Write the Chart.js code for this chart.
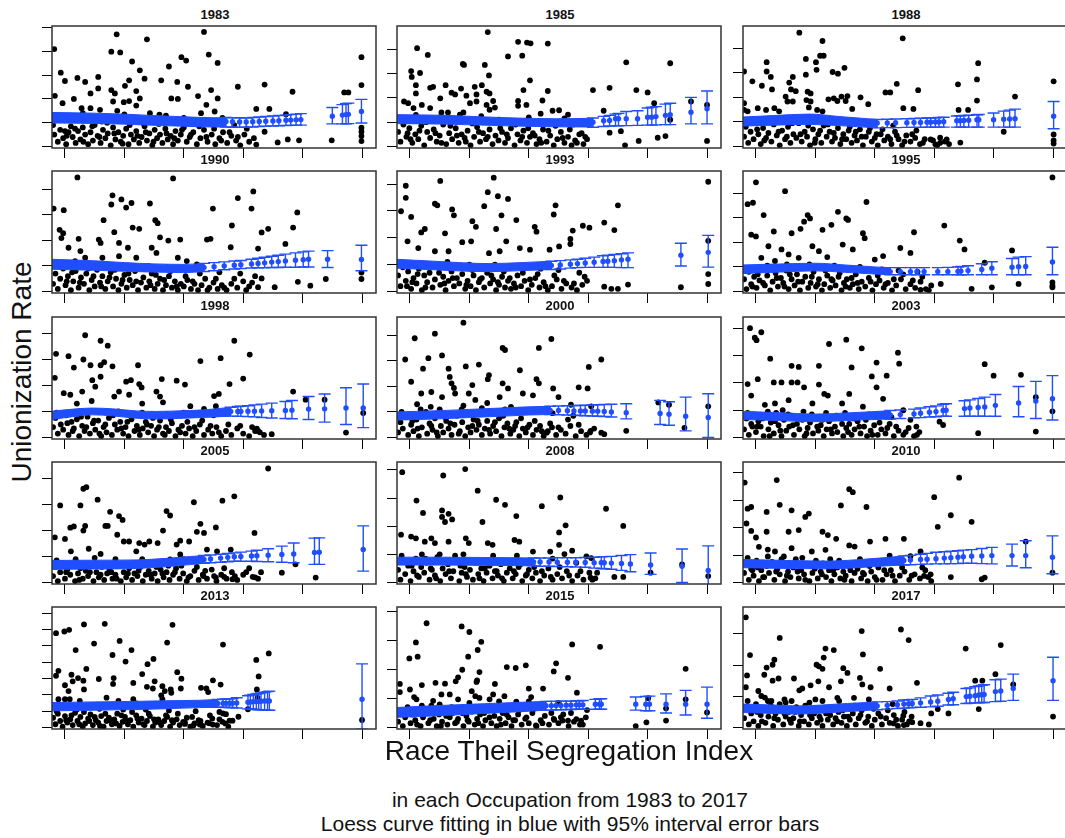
<!DOCTYPE html>
<html>
<head>
<meta charset="utf-8">
<script src="https://cdn.jsdelivr.net/npm/chart.js@4.4.0/dist/chart.umd.min.js"></script>
<style>
body { margin: 0; background: #fff; width: 1065px; height: 838px; overflow: hidden; position: relative; font-family: "Liberation Sans", Arial, sans-serif; }
canvas { position: absolute; }
.ttl { position: absolute; width: 326px; text-align: center; font-weight: bold; font-size: 13px; line-height: 14px; color: #111; }
.lbl { position: absolute; text-align: center; color: #111; white-space: nowrap; }
</style>
</head>
<body>
<script>
const years = [1983, 1985, 1988, 1990, 1993, 1995, 1998, 2000, 2003, 2005, 2008, 2010, 2013, 2015, 2017]
const xTicks = [0, 0.1, 0.2, 0.3, 0.4, 0.5]
const yTicks = [0, 0.1, 0.2, 0.3, 0.4, 0.5, 0.6, 0.7]
// value at the top edge of each panel
const yTop = [0.506, 0.495, 0.49, 0.471, 0.449, 0.49, 0.462, 0.471, 0.442, 0.464, 0.428, 0.439, 0.738, 0.415, 0.386]

const pts1983 = [[-0.018,0.409],[0.087,0.471],[0.138,0.45],[0.234,0.481],[0.078,0.398],[0.093,0.395],[0.242,0.386],[0.196,0.375],[0.204,0.361],[0.257,0.351],[0.113,0.357],[0.175,0.336],[0.126,0.32],[-0.007,0.31],[0,0.275],[0.021,0.288],[0.034,0.271],[0.056,0.292],[0.134,0.285],[0.162,0.278],[0.108,0.278],[0.189,0.271],[0.101,0.255],[0.207,0.251],[0.291,0.251],[0.336,0.26],[0.499,0.375],[0.499,0.258],[0.246,0.237],[0.056,0.244],[0.043,0.223],[0.078,0.237],[0.084,0.223],[0.12,0.233],[0.383,0.23],[0.47,0.227],[0.477,0.227],[-0.017,0.213],[0.015,0.2],[0.126,0.202],[0.179,0.202],[0.19,0.2],[0.224,0.212],[0.257,0.202],[0.081,0.189],[0.099,0.186],[0.108,0.191],[0.12,0.172],[-0.004,0.182],[0.028,0.161],[0.043,0.161],[0.059,0.154],[0.088,0.15],[0.238,0.175],[0.322,0.158],[0.344,0.158],[0.252,0.147],[0.229,0.14],[0.143,0.14],[0.159,0.134],[0.372,0.136],[0.336,0.062],[0.358,0.017],[0.375,0.03],[0.394,0.026],[0.449,0.026],[0.499,0.079],[0.499,0.062],[0.499,0.044],[0.499,0.023],[0.01,0.13],[0.03,0.14],[0.07,0.12],[0.1,0.135],[0.17,0.13],[0.2,0.12],[0.265,0.12],
[-0.02,0.09],[-0.018,0.05],[-0.012,0.02],[-0.008,0.07],[-0.003,0.035],[0.002,0.01],[0.006,0.06],[0.01,0.085],[0.013,0.04],[0.018,0.015],[0.022,0.065],[0.026,0.03],[0.03,0.08],[0.034,0.05],[0.039,0.01],[0.043,0.06],[0.047,0.025],[0.05,0.09],[0.055,0.045],[0.06,0.015],[0.064,0.07],[0.068,0.035],[0.072,0.055],[0.077,0.005],[0.081,0.08],[0.085,0.03],[0.09,0.06],[0.094,0.02],[0.098,0.045],[0.103,0.075],[0.107,0.01],[0.111,0.05],[0.116,0.03],[0.12,0.065],[0.125,0.015],[0.129,0.04],[0.134,0.085],[0.138,0.025],[0.142,0.055],[0.147,0.005],[0.151,0.07],[0.155,0.035],[0.16,0.05],[0.164,0.015],[0.169,0.075],[0.173,0.03],[0.178,0.045],[0.182,0.01],[0.186,0.065],[0.19,0.025],[0.195,0.05],[0.2,0.08],[0.205,0.02],[0.21,0.04],[0.216,0.06],[0.222,0.01],[0.228,0.035],[0.234,0.07],[0.24,0.02],[0.247,0.05],[0.253,0.01],[0.26,0.035],[0.266,0.06],[0.273,0.015],[0.28,0.045],[0.288,0.025],[0.295,0.005],[0.302,0.05],[0.31,0.02],[0.318,0.035]]
const pts1985 = [[0.131,0.47],[0.182,0.43],[0.197,0.427],[0.203,0.424],[0.232,0.423],[0.012,0.404],[0.03,0.376],[0.165,0.37],[0.189,0.373],[0.089,0.339],[0.091,0.335],[0.126,0.335],[0.364,0.346],[0.438,0.342],[0.002,0.31],[0.003,0.286],[0.017,0.302],[0.133,0.292],[0.202,0.272],[0.01,0.252],[0.034,0.241],[0.039,0.245],[0.06,0.252],[0.086,0.238],[0.109,0.245],[0.121,0.252],[0.191,0.232],[0.232,0.228],[0.308,0.232],[0.336,0.241],[0.381,0.232],[0.4,0.222],[0.01,0.218],[0.07,0.221],[0.076,0.214],[0.095,0.209],[0.112,0.214],[0.129,0.225],[0.134,0.218],[0.051,0.198],[0.101,0.178],[0.112,0.185],[0.14,0.187],[0.182,0.187],[0.223,0.189],[-0.01,0.185],[-0.003,0.178],[0.006,0.158],[0.02,0.171],[0.034,0.158],[0.129,0.171],[0.134,0.151],[0.143,0.16],[0.182,0.167],[0.196,0.171],[0.411,0.178],[0.473,0.185],[0.5,0.171],[0.24,0.147],[0.251,0.149],[0.326,0.147],[0.266,0.131],[0.053,0.14],[0.064,0.14],[0.084,0.131],[0.336,0.057],[0.355,0.063],[0.362,0.005],[0.385,0.023],[0.417,0.036],[0.43,0.043],[0.5,0.023],[0.438,0.11],
[0.01,0.13],[0.05,0.12],[0.09,0.14],[0.12,0.125],[0.15,0.11],[0.2,0.12],[0.22,0.135],[0.26,0.115],
[-0.02,0.06],[-0.016,0.02],[-0.011,0.09],[-0.006,0.04],[-0.001,0.075],[0.004,0.015],[0.009,0.05],[0.014,0.03],[0.019,0.085],[0.024,0.005],[0.029,0.06],[0.034,0.035],[0.04,0.07],[0.045,0.02],[0.05,0.045],[0.056,0.09],[0.061,0.01],[0.066,0.055],[0.071,0.03],[0.077,0.075],[0.082,0.015],[0.087,0.05],[0.092,0.035],[0.097,0.065],[0.102,0.005],[0.108,0.04],[0.113,0.08],[0.118,0.02],[0.123,0.055],[0.128,0.03],[0.134,0.07],[0.139,0.01],[0.144,0.045],[0.149,0.025],[0.155,0.06],[0.16,0.015],[0.165,0.035],[0.17,0.075],[0.176,0.005],[0.181,0.05],[0.186,0.025],[0.191,0.065],[0.197,0.015],[0.202,0.04],[0.207,0.055],[0.213,0.01],[0.218,0.03],[0.224,0.07],[0.23,0.02],[0.236,0.045],[0.242,0.005],[0.248,0.03],[0.254,0.06],[0.26,0.015],[0.266,0.04],[0.272,0.005],[0.278,0.025],[0.285,0.05],[0.292,0.01],[0.298,0.03]]
const pts1988 = [[0.073,0.463],[0.247,0.44],[0.112,0.429],[0.108,0.369],[0.114,0.369],[0.101,0.343],[0.084,0.356],[0.018,0.343],[0.102,0.312],[0.129,0.303],[0.138,0.296],[0.149,0.32],[0.018,0.305],[-0.02,0.305],[0.025,0.283],[0.084,0.292],[0.374,0.339],[0.372,0.273],[0.501,0.265],[-0.006,0.265],[0.062,0.283],[0.056,0.26],[0.01,0.247],[0.027,0.232],[0.059,0.232],[0.067,0.225],[0.34,0.253],[0.273,0.229],[0.237,0.255],[0.218,0.22],[0.226,0.22],[0.05,0.203],[0.062,0.183],[0.053,0.183],[0.087,0.223],[0.092,0.216],[0.085,0.189],[0.092,0.183],[0.089,0.159],[0.122,0.192],[0.131,0.196],[0.137,0.185],[0.144,0.203],[0.154,0.205],[0.151,0.185],[0.176,0.2],[0.189,0.172],[0.162,0.153],[0.372,0.187],[0.436,0.203],[0.341,0.149],[0.357,0.149],[0.248,0.156],[0.265,0.153],[-0.02,0.176],[-0.02,0.149],[-0.014,0.143],[0.003,0.156],[0.017,0.149],[0.031,0.156],[0.039,0.143],[0.103,0.149],[0.112,0.143],[0.417,0.06],[0.344,0.016],[0.501,0.049],[0.501,0.025],[0.501,0.012],[0.294,0.029],[0.302,0.009],[0.31,0.036],[0.321,0.029],
[-0.02,0.04],[-0.017,0.08],[-0.013,0.015],[-0.009,0.06],[-0.004,0.03],[0,0.1],[0.004,0.05],[0.008,0.01],[0.012,0.075],[0.017,0.035],[0.021,0.055],[0.026,0.02],[0.03,0.09],[0.035,0.045],[0.04,0.005],[0.044,0.065],[0.049,0.03],[0.054,0.08],[0.058,0.015],[0.063,0.05],[0.068,0.035],[0.072,0.095],[0.077,0.02],[0.082,0.06],[0.086,0.04],[0.091,0.005],[0.096,0.07],[0.1,0.03],[0.105,0.05],[0.11,0.015],[0.114,0.085],[0.119,0.04],[0.124,0.06],[0.128,0.02],[0.133,0.035],[0.138,0.075],[0.142,0.01],[0.147,0.05],[0.152,0.03],[0.156,0.065],[0.161,0.015],[0.166,0.045],[0.17,0.025],[0.175,0.07],[0.18,0.005],[0.185,0.04],[0.19,0.06],[0.195,0.02],[0.2,0.035],[0.205,0.005],[0.21,0.05],[0.216,0.025],[0.222,0.04],[0.228,0.01],[0.234,0.06],[0.24,0.03],[0.246,0.005],[0.253,0.045],[0.26,0.02],[0.268,0.035],[0.276,0.01],[0.284,0.03],[0.31,0.015],[0.318,0.02]]
const pts1990 = [[0.021,0.446],[0.182,0.442],[0.08,0.376],[0.095,0.36],[0.078,0.34],[0.112,0.346],[0.103,0.328],[0.143,0.344],[0.065,0.279],[-0.019,0.324],[-0.002,0.318],[0.291,0.365],[0.317,0.391],[0.249,0.324],[0.314,0.324],[0.391,0.309],[0.281,0.258],[0.152,0.279],[0.156,0.267],[0.114,0.25],[0.125,0.245],[0.083,0.232],[-0.009,0.241],[-0.003,0.228],[-0.006,0.209],[0.023,0.206],[0.057,0.203],[0.06,0.19],[0.091,0.19],[0.106,0.171],[0.16,0.212],[0.174,0.199],[0.194,0.203],[0.239,0.203],[0.245,0.206],[0.331,0.231],[0.342,0.245],[0.384,0.25],[0.371,0.186],[0.325,0.168],[0.279,0.173],[0.146,0.171],[0.154,0.151],[0.006,0.171],[0.026,0.158],[0.017,0.119],[0.006,0.1],[0.034,0.132],[0.063,0.132],[0.091,0.138],[0.12,0.132],[0.19,0.132],[0.205,0.119],[0.222,0.106],[0.331,0.051],[0.392,0.038],[0.413,0.023],[0.499,0.074],[0.499,0.049],[0.439,0.049],[0.353,0.017],[0.325,0.017],
[-0.02,0.03],[-0.016,0.07],[-0.012,0.01],[-0.008,0.05],[-0.003,0.09],[0.001,0.025],[0.005,0.06],[0.01,0.005],[0.014,0.04],[0.018,0.08],[0.023,0.015],[0.027,0.055],[0.032,0.03],[0.036,0.07],[0.041,0.005],[0.045,0.045],[0.05,0.02],[0.054,0.085],[0.059,0.035],[0.063,0.06],[0.068,0.01],[0.072,0.04],[0.077,0.075],[0.081,0.02],[0.086,0.05],[0.09,0.005],[0.095,0.03],[0.1,0.065],[0.104,0.015],[0.109,0.045],[0.114,0.025],[0.118,0.08],[0.123,0.005],[0.128,0.035],[0.132,0.055],[0.137,0.015],[0.142,0.04],[0.146,0.07],[0.151,0.01],[0.156,0.03],[0.16,0.05],[0.165,0.005],[0.17,0.025],[0.175,0.06],[0.18,0.015],[0.185,0.04],[0.19,0.005],[0.195,0.03],[0.2,0.02],[0.206,0.045],[0.212,0.01],[0.218,0.03],[0.224,0.005],[0.23,0.025],[0.236,0.05],[0.243,0.015],[0.25,0.035],[0.257,0.01],[0.264,0.025],[0.272,0.005],[0.28,0.03],[0.29,0.015],[0.3,0.04],[0.31,0.02],[0.32,0.06]]
const pts1993 = [[0.141,0.424],[0.051,0.412],[-0.007,0.394],[-0.007,0.349],[0.131,0.37],[0.148,0.355],[0.165,0.345],[0.042,0.327],[0.046,0.321],[0.071,0.306],[0.074,0.284],[0.125,0.318],[0.245,0.321],[0.242,0.287],[0.35,0.321],[0.502,0.409],[-0.015,0.299],[0.002,0.278],[0.154,0.284],[0.179,0.266],[0.025,0.233],[0.019,0.22],[0.105,0.262],[0.111,0.241],[0.145,0.233],[0.21,0.241],[0.213,0.223],[0.059,0.217],[0.291,0.245],[0.302,0.238],[0.274,0.227],[0.327,0.257],[0.344,0.229],[0.103,0.187],[0.088,0.184],[0.162,0.187],[0.27,0.196],[0.27,0.177],[0.185,0.162],[0.202,0.156],[0.014,0.162],[0.042,0.15],[0.065,0.15],[-0.004,0.187],[0.133,0.143],[0.151,0.15],[0.235,0.156],[0.251,0.168],[0.502,0.189],[0.502,0.065],[0.502,0.028],[0.456,0.016],[0.327,0.018],[0.339,0.01],[0.35,0.01],[0.367,0.026],
[-0.02,0.06],[-0.016,0.02],[-0.012,0.09],[-0.007,0.04],[-0.003,0.075],[0.002,0.01],[0.006,0.05],[0.011,0.03],[0.015,0.085],[0.02,0.005],[0.024,0.06],[0.029,0.035],[0.033,0.07],[0.038,0.015],[0.042,0.045],[0.047,0.095],[0.051,0.025],[0.056,0.055],[0.06,0.005],[0.065,0.04],[0.07,0.075],[0.074,0.02],[0.079,0.05],[0.083,0.03],[0.088,0.065],[0.093,0.01],[0.097,0.04],[0.102,0.02],[0.107,0.06],[0.111,0.005],[0.116,0.035],[0.121,0.05],[0.125,0.015],[0.13,0.07],[0.135,0.03],[0.14,0.045],[0.145,0.005],[0.15,0.025],[0.155,0.055],[0.16,0.015],[0.165,0.04],[0.17,0.01],[0.175,0.03],[0.181,0.06],[0.187,0.02],[0.193,0.04],[0.199,0.005],[0.205,0.025],[0.211,0.05],[0.218,0.015],[0.225,0.035],[0.232,0.005],[0.239,0.02],[0.247,0.045],[0.255,0.01],[0.263,0.03],[0.272,0.015],[0.281,0.005],[0.29,0.025],[0.298,0.04]]
const pts1995 = [[0.499,0.464],[0,0.444],[0.049,0.408],[-0.014,0.355],[-0.005,0.361],[0.013,0.311],[0.087,0.311],[0.091,0.297],[0.081,0.284],[0.138,0.324],[0.152,0.297],[0.155,0.291],[0.186,0.364],[0.127,0.271],[0.112,0.251],[-0.008,0.231],[0,0.224],[0.03,0.244],[0.06,0.237],[0.075,0.255],[0.18,0.237],[0.183,0.217],[0.266,0.241],[0.317,0.268],[0.343,0.207],[0.351,0.171],[0.146,0.191],[0.163,0.171],[0.021,0.184],[0.043,0.171],[0.095,0.184],[0.106,0.164],[0.243,0.177],[0.26,0.157],[0.214,0.144],[0.431,0.167],[0.385,0.117],[0.442,0.031],[0.499,0.037],[0.499,0.024],[0.499,0.017],[0.363,0.011],[0.397,0.017],[0.311,0.031],[0.277,0.007],[0.055,0.151],[0.072,0.137],[0.009,0.137],[0.032,0.124],[0.12,0.14],[0.2,0.13],
[-0.02,0.05],[-0.016,0.01],[-0.012,0.08],[-0.008,0.03],[-0.003,0.06],[0.001,0.015],[0.006,0.045],[0.01,0.09],[0.015,0.025],[0.019,0.065],[0.024,0.005],[0.028,0.04],[0.033,0.075],[0.037,0.02],[0.042,0.055],[0.046,0.035],[0.051,0.085],[0.055,0.01],[0.06,0.05],[0.065,0.025],[0.069,0.07],[0.074,0.005],[0.078,0.04],[0.083,0.06],[0.088,0.015],[0.092,0.035],[0.097,0.08],[0.101,0.02],[0.106,0.05],[0.111,0.005],[0.115,0.03],[0.12,0.065],[0.125,0.015],[0.129,0.045],[0.134,0.025],[0.139,0.06],[0.144,0.005],[0.148,0.035],[0.153,0.05],[0.158,0.015],[0.163,0.03],[0.168,0.07],[0.173,0.01],[0.178,0.04],[0.184,0.02],[0.19,0.055],[0.196,0.005],[0.202,0.03],[0.208,0.045],[0.215,0.015],[0.222,0.035],[0.229,0.005],[0.236,0.025],[0.244,0.05],[0.252,0.01],[0.26,0.03],[0.268,0.015],[0.277,0.04],[0.286,0.01],[0.295,0.025]]
const pts1998 = [[0.034,0.392],[0.06,0.371],[0.072,0.352],[-0.015,0.321],[0.006,0.312],[0.031,0.299],[0.015,0.268],[0.043,0.277],[0.06,0.277],[0.066,0.289],[0.08,0.273],[0.123,0.277],[0.06,0.233],[-0.017,0.229],[-0.002,0.17],[0.009,0.164],[0.029,0.176],[0.046,0.22],[0.051,0.195],[0.103,0.214],[0.111,0.22],[0.125,0.205],[0.129,0.192],[0.091,0.176],[0.108,0.164],[0.083,0.157],[0.163,0.224],[0.188,0.218],[0.202,0.203],[0.228,0.293],[0.262,0.304],[0.285,0.371],[0.311,0.318],[0.3,0.226],[0.277,0.205],[0.251,0.159],[0.259,0.167],[0.154,0.176],[0.16,0.157],[0.165,0.135],[0.384,0.176],[0.405,0.145],[0.437,0.145],[0.323,0.034],[0.325,0.025],[0.348,0.013],[0.473,0.019],[0.502,0.094],[0.211,0.12],[0.234,0.11],[0.254,0.12],[0.02,0.13],[0.045,0.14],[0.13,0.13],
[-0.02,0.04],[-0.016,0.075],[-0.012,0.015],[-0.007,0.05],[-0.003,0.03],[0.002,0.085],[0.006,0.01],[0.011,0.06],[0.015,0.035],[0.02,0.07],[0.024,0.005],[0.029,0.045],[0.033,0.025],[0.038,0.08],[0.042,0.015],[0.047,0.055],[0.051,0.03],[0.056,0.065],[0.061,0.005],[0.065,0.04],[0.07,0.02],[0.074,0.075],[0.079,0.01],[0.084,0.05],[0.088,0.03],[0.093,0.06],[0.098,0.015],[0.102,0.04],[0.107,0.005],[0.112,0.07],[0.117,0.025],[0.121,0.045],[0.126,0.01],[0.131,0.035],[0.136,0.06],[0.14,0.02],[0.145,0.045],[0.15,0.005],[0.155,0.03],[0.16,0.065],[0.165,0.015],[0.17,0.04],[0.175,0.025],[0.18,0.055],[0.186,0.005],[0.191,0.03],[0.197,0.045],[0.203,0.015],[0.209,0.035],[0.215,0.005],[0.221,0.025],[0.227,0.05],[0.234,0.01],[0.241,0.03],[0.248,0.015],[0.255,0.04],[0.263,0.005],[0.271,0.025],[0.28,0.01],[0.29,0.035],[0.3,0.015],[0.31,0.005],[0.32,0.025],[0.335,0.01]]
const pts2000 = [[0.09,0.449],[0.042,0.406],[0.008,0.388],[-0.008,0.305],[0.031,0.31],[0.054,0.321],[0.022,0.269],[0.002,0.218],[0.065,0.269],[0.094,0.278],[0.116,0.285],[0.156,0.35],[0.16,0.342],[0.133,0.244],[0.131,0.228],[0.185,0.263],[0.217,0.35],[0.238,0.385],[0.213,0.228],[0.217,0.212],[0.156,0.212],[0.165,0.192],[0.241,0.192],[0.25,0.158],[0.284,0.196],[0.299,0.192],[0.301,0.276],[0.322,0.305],[0.067,0.237],[0.07,0.212],[0.074,0.194],[0.076,0.172],[0.105,0.205],[0.099,0.172],[0.019,0.172],[0.036,0.178],[0.054,0.158],[0.11,0.147],[0.151,0.158],[0.19,0.172],[0.207,0.165],[0.271,0.128],[0.305,0.122],[0.418,0.137],[0.436,0.128],[0.462,0.038],[0.502,0.122],[0.364,0.026],[0.304,0.026],[0.322,0.019],[0.327,0.013],[0.23,0.019],[0.012,0.13],[0.035,0.12],[0.09,0.125],[0.13,0.135],[0.17,0.12],
[-0.02,0.02],[-0.016,0.06],[-0.012,0.035],[-0.007,0.08],[-0.003,0.01],[0.002,0.05],[0.006,0.025],[0.011,0.07],[0.015,0.005],[0.02,0.04],[0.024,0.09],[0.029,0.015],[0.033,0.055],[0.038,0.03],[0.042,0.075],[0.047,0.005],[0.052,0.045],[0.056,0.02],[0.061,0.065],[0.065,0.035],[0.07,0.01],[0.075,0.05],[0.079,0.085],[0.084,0.025],[0.088,0.06],[0.093,0.005],[0.098,0.04],[0.102,0.02],[0.107,0.07],[0.112,0.03],[0.116,0.05],[0.121,0.01],[0.126,0.035],[0.13,0.065],[0.135,0.015],[0.14,0.045],[0.145,0.025],[0.15,0.075],[0.154,0.005],[0.159,0.04],[0.164,0.055],[0.169,0.015],[0.174,0.03],[0.179,0.06],[0.184,0.005],[0.19,0.035],[0.195,0.02],[0.201,0.05],[0.207,0.01],[0.213,0.03],[0.219,0.045],[0.225,0.005],[0.232,0.025],[0.239,0.04],[0.246,0.01],[0.254,0.03],[0.262,0.015],[0.27,0.045],[0.279,0.005],[0.288,0.025],[0.297,0.01],[0.31,0.035]]
const pts2003 = [[-0.01,0.401],[-0.002,0.366],[0.001,0.357],[0.009,0.386],[0.024,0.289],[0.123,0.343],[0.152,0.359],[0.178,0.327],[0.161,0.257],[0.06,0.263],[0.072,0.259],[0.106,0.263],[0.239,0.311],[0.241,0.271],[0.203,0.275],[0.195,0.224],[0.22,0.227],[-0.014,0.196],[-0.008,0.154],[0.003,0.214],[0.03,0.202],[0.043,0.202],[0.06,0.202],[0.07,0.202],[0.106,0.194],[0.115,0.16],[0.121,0.154],[0.081,0.184],[0.203,0.184],[0.214,0.142],[0.157,0.16],[0.385,0.269],[0.4,0.227],[0.446,0.23],[0.471,0.148],[0.499,0.096],[0.374,0.016],[0.471,0.022],[0.271,0.01],[0.309,0.058],[0.315,0.046],[0.032,0.125],[0.055,0.137],[0.095,0.125],[0.145,0.125],[0.18,0.113],[0.248,0.1],[0.015,0.12],
[-0.02,0.03],[-0.016,0.07],[-0.012,0.01],[-0.008,0.05],[-0.004,0.085],[0,0.02],[0.004,0.06],[0.008,0.04],[0.013,0.005],[0.017,0.075],[0.021,0.03],[0.025,0.055],[0.03,0.015],[0.034,0.09],[0.038,0.045],[0.043,0.005],[0.047,0.065],[0.051,0.025],[0.056,0.04],[0.06,0.08],[0.064,0.01],[0.069,0.05],[0.073,0.03],[0.078,0.065],[0.082,0.005],[0.087,0.035],[0.091,0.055],[0.096,0.015],[0.1,0.075],[0.105,0.025],[0.109,0.045],[0.114,0.005],[0.119,0.03],[0.123,0.06],[0.128,0.015],[0.133,0.04],[0.137,0.02],[0.142,0.07],[0.147,0.005],[0.152,0.035],[0.157,0.05],[0.161,0.01],[0.166,0.03],[0.171,0.06],[0.176,0.015],[0.182,0.04],[0.187,0.005],[0.193,0.025],[0.199,0.045],[0.205,0.01],[0.211,0.03],[0.218,0.015],[0.225,0.05],[0.232,0.005],[0.24,0.025],[0.248,0.01],[0.257,0.035],[0.266,0.005],[0.275,0.02]]
const pts2005 = [[0.342,0.439],[0.031,0.361],[0.036,0.367],[0.055,0.319],[-0.008,0.297],[0.026,0.297],[0.076,0.272],[0.091,0.256],[0.097,0.241],[0.068,0.218],[0.072,0.218],[0.009,0.211],[0.015,0.216],[0.034,0.218],[0.031,0.2],[-0.017,0.174],[0,0.168],[0.088,0.184],[0.099,0.158],[0.108,0.158],[0.125,0.152],[0.134,0.146],[0.142,0.158],[0.171,0.275],[0.177,0.258],[0.165,0.2],[0.217,0.309],[0.265,0.315],[0.285,0.332],[0.228,0.226],[0.222,0.195],[0.234,0.191],[0.254,0.212],[0.194,0.161],[0.188,0.146],[0.209,0.158],[0.156,0.152],[0.319,0.191],[0.239,0.127],[0.256,0.12],[0.279,0.127],[0.194,0.108],[0.177,0.089],[0.365,0.038],[0.316,0.022],[0.422,0.019],[0.388,0.07],[0.282,0.013],[0.268,0.022],[0.254,0.019],[0.233,0.025],[0.01,0.12],[0.04,0.13],[0.06,0.11],[0.12,0.12],
[-0.02,0.025],[-0.016,0.06],[-0.012,0.005],[-0.008,0.04],[-0.004,0.075],[0,0.015],[0.004,0.05],[0.009,0.03],[0.013,0.065],[0.017,0.005],[0.022,0.035],[0.026,0.055],[0.03,0.015],[0.035,0.045],[0.039,0.025],[0.044,0.07],[0.048,0.005],[0.053,0.04],[0.057,0.02],[0.062,0.06],[0.066,0.01],[0.071,0.035],[0.075,0.05],[0.08,0.015],[0.085,0.03],[0.089,0.065],[0.094,0.005],[0.099,0.04],[0.103,0.02],[0.108,0.055],[0.113,0.01],[0.117,0.035],[0.122,0.025],[0.127,0.06],[0.131,0.005],[0.136,0.03],[0.141,0.045],[0.146,0.015],[0.151,0.035],[0.156,0.005],[0.161,0.05],[0.166,0.02],[0.171,0.04],[0.176,0.01],[0.182,0.03],[0.187,0.055],[0.193,0.015],[0.199,0.035],[0.205,0.005],[0.211,0.025],[0.218,0.045],[0.225,0.01],[0.232,0.03],[0.239,0.015],[0.247,0.05],[0.255,0.005],[0.263,0.03],[0.272,0.015],[0.281,0.04],[0.29,0.01],[0.3,0.03],[0.31,0.055],[0.32,0.02],[0.33,0.04]]
const pts2008 = [[-0.013,0.392],[0.056,0.38],[0.093,0.403],[0.114,0.326],[0.145,0.294],[0.16,0.276],[0.253,0.302],[0.222,0.271],[0.179,0.236],[0.011,0.291],[0.022,0.247],[0.054,0.256],[0.054,0.233],[0.059,0.215],[0.065,0.244],[0.071,0.224],[0.122,0.215],[0.262,0.203],[0.251,0.178],[0.33,0.262],[0.359,0.201],[-0.015,0.17],[0.002,0.163],[0.01,0.157],[0.036,0.157],[0.025,0.145],[0.042,0.14],[0.065,0.145],[0.094,0.157],[0.099,0.14],[0.131,0.14],[0.139,0.134],[0.176,0.151],[0.184,0.145],[0.207,0.11],[0.236,0.11],[0.251,0.134],[0.273,0.113],[0.26,0.101],[0.297,0.093],[0.305,0.087],[0.405,0.035],[0.458,0.064],[0.502,0.023],[0.344,0.02],[0.359,0.02],[0.315,0.035],[0.304,0.017],
[-0.02,0.045],[-0.016,0.01],[-0.012,0.075],[-0.008,0.03],[-0.003,0.06],[0.001,0.005],[0.006,0.04],[0.01,0.085],[0.015,0.02],[0.019,0.055],[0.024,0.035],[0.028,0.07],[0.033,0.01],[0.037,0.045],[0.042,0.025],[0.046,0.09],[0.051,0.005],[0.055,0.05],[0.06,0.03],[0.064,0.065],[0.069,0.015],[0.073,0.04],[0.078,0.08],[0.083,0.005],[0.087,0.035],[0.092,0.055],[0.096,0.02],[0.101,0.045],[0.106,0.01],[0.11,0.07],[0.115,0.03],[0.12,0.05],[0.124,0.005],[0.129,0.035],[0.134,0.06],[0.139,0.015],[0.143,0.04],[0.148,0.025],[0.153,0.065],[0.158,0.005],[0.163,0.035],[0.168,0.05],[0.173,0.015],[0.178,0.03],[0.183,0.055],[0.189,0.005],[0.195,0.025],[0.2,0.045],[0.206,0.015],[0.212,0.035],[0.219,0.005],[0.226,0.025],[0.233,0.05],[0.24,0.01],[0.248,0.03],[0.256,0.015],[0.264,0.04],[0.273,0.005],[0.282,0.025],[0.292,0.01],[0.302,0.035],[0.312,0.015]]
const pts2010 = [[-0.019,0.364],[0.035,0.373],[0.342,0.382],[0.157,0.34],[0.163,0.329],[0.3,0.311],[-0.014,0.269],[-0.008,0.275],[0.018,0.257],[0.04,0.283],[0.06,0.263],[0.089,0.251],[0.083,0.239],[0.143,0.281],[0.186,0.275],[0.328,0.245],[0.306,0.203],[0.363,0.221],[-0.016,0.215],[-0.008,0.188],[0,0.164],[0.018,0.185],[0.055,0.185],[0.072,0.191],[0.112,0.185],[0.121,0.173],[0.135,0.159],[0.157,0.135],[0.166,0.131],[0.192,0.149],[0.218,0.159],[0.249,0.159],[0.117,0.119],[0.094,0.113],[0.06,0.125],[0.032,0.113],[0.277,0.113],[0.26,0.096],[0.225,0.098],[0.454,0.149],[0.499,0.036],[0.385,0.018],[0.38,0.012],[0.328,0.02],[0.283,0.024],[0.294,0.03],[0.005,0.13],[0.02,0.12],
[-0.02,0.035],[-0.016,0.07],[-0.012,0.01],[-0.008,0.05],[-0.004,0.025],[0.001,0.08],[0.005,0.005],[0.009,0.045],[0.014,0.02],[0.018,0.06],[0.022,0.035],[0.027,0.075],[0.031,0.01],[0.036,0.05],[0.04,0.03],[0.045,0.065],[0.049,0.005],[0.054,0.04],[0.058,0.02],[0.063,0.055],[0.067,0.085],[0.072,0.015],[0.076,0.045],[0.081,0.03],[0.086,0.065],[0.09,0.005],[0.095,0.035],[0.099,0.05],[0.104,0.015],[0.109,0.04],[0.113,0.07],[0.118,0.02],[0.123,0.045],[0.127,0.005],[0.132,0.03],[0.137,0.055],[0.142,0.015],[0.147,0.04],[0.151,0.025],[0.156,0.06],[0.161,0.005],[0.166,0.035],[0.171,0.05],[0.177,0.015],[0.182,0.03],[0.188,0.005],[0.194,0.04],[0.2,0.02],[0.206,0.055],[0.213,0.01],[0.22,0.03],[0.227,0.045],[0.234,0.005],[0.242,0.025],[0.25,0.04],[0.258,0.01],[0.267,0.03],[0.276,0.015],[0.285,0.045],[0.295,0.005]]
const pts2013 = [[-0.015,0.578],[-0.001,0.588],[0.007,0.598],[0.032,0.631],[0.067,0.635],[0.181,0.629],[0.018,0.474],[0.049,0.514],[0.092,0.53],[0.112,0.474],[0.08,0.444],[0.102,0.404],[0.172,0.52],[0.149,0.42],[0.139,0.388],[0.13,0.327],[0.266,0.508],[0.343,0.454],[0.322,0.414],[0.326,0.313],[0.323,0.233],[0.324,0.183],[-0.015,0.317],[-0.011,0.347],[0,0.259],[0.013,0.283],[0.011,0.323],[0.022,0.303],[0.031,0.287],[0.036,0.359],[0.032,0.233],[0.057,0.297],[0.082,0.303],[0.081,0.267],[0.115,0.273],[0.138,0.249],[0.151,0.283],[0.148,0.239],[0.164,0.253],[0.168,0.223],[0.179,0.213],[0.178,0.233],[0.162,0.197],[0.164,0.173],[0.189,0.339],[0.196,0.299],[0.195,0.239],[0.249,0.289],[0.229,0.243],[0.238,0.239],[0.241,0.217],[0.262,0.263],[0.006,0.223],[0,0.173],[-0.011,0.173],[0.008,0.173],[0.025,0.163],[0.07,0.183],[0.09,0.163],[0.115,0.173],[0.12,0.147],[0.266,0.086],[0.271,0.082],[0.277,0.042],[0.282,0.042],[0.292,0.066],[0.308,0.112],[0.5,0.046],[0.202,0.022],[0.216,0.012],[0.227,0.018],[0.243,0.026],[0.249,0.018],
[-0.02,0.06],[-0.016,0.02],[-0.012,0.085],[-0.008,0.04],[-0.004,0.005],[0,0.07],[0.004,0.03],[0.009,0.05],[0.013,0.015],[0.017,0.09],[0.021,0.04],[0.026,0.065],[0.03,0.005],[0.034,0.025],[0.039,0.055],[0.043,0.08],[0.047,0.015],[0.052,0.045],[0.056,0.03],[0.061,0.07],[0.065,0.005],[0.07,0.04],[0.074,0.06],[0.079,0.02],[0.083,0.05],[0.088,0.085],[0.092,0.01],[0.097,0.035],[0.101,0.065],[0.106,0.02],[0.11,0.045],[0.115,0.005],[0.12,0.075],[0.124,0.03],[0.129,0.055],[0.134,0.015],[0.138,0.04],[0.143,0.07],[0.148,0.005],[0.152,0.03],[0.157,0.05],[0.162,0.015],[0.167,0.04],[0.172,0.065],[0.177,0.005],[0.182,0.03],[0.188,0.05],[0.193,0.015],[0.199,0.035],[0.205,0.06],[0.211,0.005],[0.218,0.025],[0.225,0.045],[0.232,0.01],[0.24,0.03],[0.248,0.055],[0.256,0.015],[0.265,0.035],[0.275,0.005]]
const pts2015 = [[0.028,0.359],[0.087,0.348],[0.1,0.329],[0.01,0.293],[0.013,0.244],[-0.001,0.238],[0.12,0.295],[0.114,0.267],[0.098,0.244],[0.273,0.286],[0.32,0.278],[0.088,0.199],[0.081,0.173],[0.077,0.159],[0.117,0.191],[0.113,0.162],[0.112,0.157],[0.163,0.208],[0.178,0.205],[0.195,0.214],[0.246,0.221],[0.242,0.193],[0.266,0.171],[0.2,0.134],[0.204,0.105],[0.224,0.134],[0.143,0.15],[0.14,0.114],[0.043,0.154],[0.059,0.151],[0.02,0.146],[0,0.131],[-0.017,0.15],[-0.017,0.122],[0.007,0.105],[0.011,0.097],[0.039,0.092],[0.053,0.114],[0.067,0.114],[0.081,0.097],[0.104,0.125],[0.11,0.108],[0.117,0.102],[0.134,0.097],[0.159,0.108],[0.179,0.089],[0.281,0.12],[0.464,0.202],[0.464,0.097],[0.5,0.052],[0.431,0.024],[0.398,0.018],[0.38,0.005],[0.431,0.066],[0.401,0.101],[0.243,0.026],[0.257,0.024],[0.266,0.024],[0.28,0.029],[0.288,0.024],[0.212,0.007],
[-0.02,0.02],[-0.016,0.055],[-0.012,0.005],[-0.008,0.035],[-0.004,0.07],[0.001,0.015],[0.005,0.045],[0.009,0.025],[0.014,0.06],[0.018,0.005],[0.022,0.035],[0.027,0.05],[0.031,0.015],[0.036,0.075],[0.04,0.03],[0.045,0.005],[0.049,0.045],[0.054,0.02],[0.058,0.06],[0.063,0.01],[0.067,0.035],[0.072,0.05],[0.076,0.015],[0.081,0.03],[0.086,0.065],[0.09,0.005],[0.095,0.04],[0.099,0.02],[0.104,0.055],[0.109,0.01],[0.113,0.03],[0.118,0.045],[0.123,0.005],[0.127,0.025],[0.132,0.06],[0.137,0.015],[0.142,0.04],[0.146,0.005],[0.151,0.03],[0.156,0.05],[0.161,0.015],[0.166,0.035],[0.171,0.005],[0.177,0.025],[0.182,0.045],[0.188,0.01],[0.194,0.03],[0.2,0.015],[0.206,0.05],[0.213,0.005],[0.22,0.025],[0.227,0.04],[0.234,0.01],[0.242,0.03],[0.25,0.015],[0.258,0.045],[0.267,0.005],[0.276,0.02],[0.286,0.01],[0.296,0.035]]
const pts2017 = [[-0.017,0.353],[-0.01,0.232],[0.04,0.287],[0.244,0.314],[0.257,0.28],[0.178,0.309],[0.18,0.234],[0.117,0.253],[0.131,0.248],[0.114,0.224],[0.102,0.201],[0.106,0.196],[0.112,0.188],[0.031,0.217],[0.028,0.201],[0.018,0.192],[0.014,0.169],[-0.015,0.167],[-0.017,0.129],[0.028,0.15],[0.038,0.157],[0.064,0.157],[0.073,0.119],[0.078,0.125],[0.092,0.135],[0.105,0.148],[0.123,0.129],[0.143,0.148],[0.147,0.19],[0.154,0.175],[0.175,0.159],[0.179,0.138],[0.193,0.129],[0.209,0.188],[0.225,0.125],[0.271,0.143],[0.353,0.253],[0.412,0.264],[0.403,0.171],[0.369,0.15],[0.381,0.15],[0.433,0.138],[0.5,0.035],[0.375,0.059],[0.324,0.045],[0.306,0.059],[0.295,0.045],[0.263,0.017],[0.277,0.014],[0.291,0.01],[0.248,0.038],[0.249,0.008],[0.232,0.013],[0.004,0.117],[0.009,0.101],[0.015,0.096],[0.026,0.085],[0.048,0.09],[0.06,0.085],[0.1,0.09],[0.112,0.085],[0.137,0.095],[0.165,0.095],
[-0.02,0.03],[-0.016,0.065],[-0.012,0.01],[-0.008,0.045],[-0.004,0.02],[0,0.075],[0.004,0.005],[0.008,0.04],[0.012,0.055],[0.016,0.015],[0.021,0.035],[0.025,0.07],[0.029,0.005],[0.033,0.045],[0.037,0.025],[0.042,0.06],[0.046,0.01],[0.05,0.035],[0.055,0.05],[0.059,0.015],[0.063,0.03],[0.068,0.065],[0.072,0.005],[0.076,0.04],[0.081,0.02],[0.085,0.055],[0.089,0.01],[0.094,0.03],[0.098,0.045],[0.103,0.015],[0.107,0.035],[0.112,0.005],[0.116,0.06],[0.121,0.025],[0.125,0.04],[0.13,0.01],[0.134,0.03],[0.139,0.05],[0.144,0.015],[0.148,0.035],[0.153,0.005],[0.158,0.025],[0.163,0.045],[0.168,0.01],[0.173,0.03],[0.178,0.055],[0.184,0.015],[0.189,0.035],[0.195,0.005],[0.2,0.025],[0.206,0.045],[0.212,0.01],[0.219,0.03],[0.225,0.015],[0.232,0.04],[0.239,0.005],[0.246,0.025],[0.254,0.01],[0.262,0.035]]

// more of the crowded low points near the bottom of each panel
const more1983 = [[0.003,0.045],[0.017,0.075],[0.031,0.02],[0.046,0.085],[0.058,0.04],[0.071,0.1],[0.083,0.055],[0.097,0.012],[0.109,0.09],[0.122,0.045],[0.136,0.06],[0.149,0.02],[0.158,0.095],[0.171,0.055],[0.184,0.035],[0.197,0.07],[0.212,0.05],[0.226,0.085],[0.238,0.04],[0.251,0.075],[0.263,0.025],[0.277,0.06],[0.291,0.04],[0.306,0.075],[0.322,0.008],[-0.015,0.11],[0.038,0.115],[0.062,0.105],[0.089,0.11],[0.131,0.1],[0.176,0.105],[0.218,0.095],[0.245,0.1],[0.285,0.09],[0,0.065]]
const more1985 = [[0.001,0.03],[0.016,0.065],[0.027,0.1],[0.043,0.055],[0.053,0.015],[0.068,0.085],[0.079,0.045],[0.094,0.02],[0.105,0.095],[0.116,0.06],[0.131,0.04],[0.142,0.1],[0.152,0.075],[0.163,0.05],[0.178,0.09],[0.189,0.04],[0.199,0.075],[0.21,0.045],[0.221,0.015],[0.233,0.065],[0.245,0.085],[0.257,0.035],[0.269,0.07],[0.281,0.015],[0.289,0.055],[-0.013,0.105],[0.036,0.11],[0.074,0.108],[0.11,0.11],[0.158,0.1],[0.195,0.105],[0.24,0.1],[0.275,0.09],[-0.004,0.055],[0.295,0.04]]
const more1988 = [[0.002,0.07],[0.014,0.025],[0.024,0.1],[0.038,0.06],[0.052,0.04],[0.061,0.095],[0.075,0.05],[0.088,0.085],[0.099,0.015],[0.108,0.065],[0.121,0.09],[0.131,0.055],[0.145,0.03],[0.158,0.08],[0.168,0.06],[0.178,0.04],[0.192,0.075],[0.203,0.05],[0.213,0.07],[0.226,0.03],[0.237,0.045],[0.25,0.02],[0.263,0.05],[0.281,0.015],[0.298,0.025],[-0.015,0.1],[0.046,0.11],[0.08,0.115],[0.117,0.11],[0.162,0.1],[0.19,0.095],[0.231,0.085],[0.27,0.065],[0.305,0.005],[0.325,0.01]]
const more1990 = [[0.003,0.04],[0.012,0.075],[0.025,0.035],[0.039,0.09],[0.048,0.06],[0.061,0.02],[0.075,0.055],[0.084,0.085],[0.097,0.045],[0.107,0.07],[0.12,0.04],[0.134,0.09],[0.144,0.025],[0.153,0.065],[0.167,0.045],[0.178,0.08],[0.188,0.02],[0.203,0.06],[0.215,0.04],[0.227,0.07],[0.24,0.005],[0.254,0.05],[0.268,0.015],[0.285,0.05],[0.305,0.005],[-0.014,0.1],[0.03,0.1],[0.066,0.1],[0.093,0.095],[0.14,0.1],[0.172,0.095],[0.21,0.09],[0.26,0.075],[0.295,0.07],[0.315,0.035]]
const more1993 = [[0.004,0.035],[0.013,0.065],[0.026,0.015],[0.036,0.1],[0.049,0.07],[0.058,0.03],[0.072,0.05],[0.086,0.09],[0.095,0.025],[0.105,0.08],[0.118,0.045],[0.128,0.095],[0.137,0.06],[0.148,0.035],[0.158,0.075],[0.168,0.05],[0.178,0.015],[0.19,0.07],[0.202,0.045],[0.215,0.065],[0.228,0.02],[0.243,0.06],[0.259,0.04],[0.276,0.03],[0.294,0.055],[-0.014,0.1],[0.02,0.105],[0.063,0.11],[0.1,0.1],[0.143,0.1],[0.185,0.095],[0.22,0.085],[0.25,0.08],[0.285,0.07],[-0.005,0.02]]
const more1995 = [[0.003,0.07],[0.012,0.035],[0.026,0.1],[0.035,0.055],[0.048,0.02],[0.057,0.07],[0.071,0.04],[0.085,0.095],[0.094,0.06],[0.104,0.03],[0.117,0.085],[0.127,0.05],[0.141,0.075],[0.151,0.02],[0.161,0.055],[0.171,0.035],[0.181,0.085],[0.193,0.04],[0.205,0.065],[0.218,0.03],[0.232,0.05],[0.248,0.07],[0.264,0.045],[0.28,0.06],[0.291,0.005],[-0.015,0.095],[0.019,0.105],[0.052,0.11],[0.09,0.11],[0.132,0.105],[0.175,0.1],[0.212,0.09],[0.24,0.085],[0.272,0.08],[-0.006,0.02]]
const more1998 = [[0.004,0.055],[0.013,0.025],[0.027,0.08],[0.036,0.04],[0.049,0.065],[0.058,0.015],[0.068,0.05],[0.081,0.085],[0.095,0.035],[0.105,0.06],[0.114,0.09],[0.124,0.03],[0.138,0.05],[0.148,0.075],[0.158,0.04],[0.168,0.01],[0.178,0.07],[0.194,0.02],[0.206,0.06],[0.218,0.04],[0.231,0.065],[0.245,0.045],[0.259,0.02],[0.275,0.05],[0.295,0.045],[-0.014,0.095],[0.025,0.1],[0.054,0.1],[0.09,0.1],[0.13,0.095],[0.172,0.09],[0.2,0.095],[0.25,0.085],[0.315,0.04],[0.328,0.02]]
const more2000 = [[0.004,0.065],[0.013,0.035],[0.027,0.1],[0.036,0.045],[0.045,0.02],[0.059,0.08],[0.068,0.055],[0.082,0.015],[0.091,0.09],[0.105,0.045],[0.114,0.065],[0.124,0.095],[0.133,0.03],[0.143,0.06],[0.157,0.085],[0.167,0.035],[0.177,0.045],[0.187,0.075],[0.198,0.04],[0.21,0.065],[0.222,0.025],[0.236,0.055],[0.25,0.04],[0.266,0.07],[0.284,0.05],[-0.014,0.1],[0.018,0.11],[0.05,0.11],[0.087,0.11],[0.121,0.115],[0.16,0.11],[0.2,0.105],[0.24,0.095],[0.275,0.085],[0.303,0.02]]
const more2003 = [[0.002,0.04],[0.011,0.07],[0.023,0.005],[0.032,0.06],[0.041,0.025],[0.054,0.085],[0.062,0.045],[0.071,0.07],[0.085,0.015],[0.094,0.085],[0.103,0.04],[0.112,0.065],[0.126,0.03],[0.135,0.08],[0.145,0.05],[0.155,0.02],[0.164,0.07],[0.174,0.04],[0.185,0.065],[0.196,0.01],[0.208,0.055],[0.221,0.035],[0.236,0.04],[0.252,0.02],[0.27,0.04],[-0.014,0.09],[0.02,0.095],[0.045,0.1],[0.08,0.095],[0.118,0.09],[0.15,0.09],[0.19,0.085],[0.228,0.075],[0.26,0.065],[-0.006,0.04]]
const more2005 = [[0.002,0.04],[0.011,0.065],[0.024,0.01],[0.033,0.07],[0.042,0.04],[0.051,0.075],[0.06,0.03],[0.069,0.065],[0.078,0.04],[0.087,0.015],[0.096,0.07],[0.106,0.035],[0.115,0.065],[0.124,0.045],[0.134,0.075],[0.144,0.03],[0.154,0.06],[0.164,0.035],[0.174,0.065],[0.185,0.04],[0.196,0.065],[0.208,0.02],[0.222,0.06],[0.236,0.045],[0.251,0.025],[0.268,0.055],[0.286,0.025],[0.305,0.04],[0.325,0.015],[-0.014,0.085],[0.018,0.09],[0.05,0.095],[0.085,0.09],[0.13,0.09],[0.2,0.09]]
const more2008 = [[0.003,0.06],[0.012,0.025],[0.026,0.085],[0.035,0.05],[0.044,0.015],[0.057,0.075],[0.066,0.04],[0.076,0.095],[0.085,0.06],[0.094,0.03],[0.103,0.075],[0.117,0.015],[0.126,0.05],[0.136,0.08],[0.146,0.04],[0.155,0.015],[0.165,0.07],[0.175,0.04],[0.186,0.065],[0.197,0.03],[0.209,0.055],[0.222,0.04],[0.237,0.02],[0.252,0.055],[0.268,0.025],[0.287,0.04],[0.307,0.01],[-0.014,0.095],[0.02,0.1],[0.05,0.1],[0.09,0.1],[0.14,0.095],[0.18,0.095],[0.24,0.085],[0.28,0.07]]
const more2010 = [[0.003,0.055],[0.012,0.02],[0.025,0.065],[0.034,0.04],[0.043,0.085],[0.052,0.025],[0.061,0.065],[0.07,0.04],[0.083,0.01],[0.092,0.06],[0.101,0.08],[0.111,0.03],[0.12,0.06],[0.13,0.045],[0.14,0.08],[0.149,0.01],[0.159,0.045],[0.168,0.065],[0.18,0.035],[0.191,0.06],[0.203,0.01],[0.216,0.045],[0.23,0.025],[0.246,0.055],[0.262,0.025],[0.28,0.055],[0.29,0.02],[-0.014,0.09],[0.02,0.095],[0.047,0.095],[0.078,0.09],[0.125,0.085],[0.175,0.085],[0.24,0.08],[-0.006,0.045]]
const more2013 = [[0.002,0.045],[0.011,0.075],[0.024,0.02],[0.032,0.095],[0.041,0.04],[0.05,0.065],[0.059,0.01],[0.068,0.085],[0.077,0.045],[0.086,0.025],[0.095,0.075],[0.104,0.04],[0.113,0.095],[0.122,0.055],[0.132,0.02],[0.141,0.085],[0.15,0.05],[0.16,0.03],[0.17,0.075],[0.18,0.045],[0.19,0.085],[0.202,0.03],[0.214,0.065],[0.228,0.04],[0.244,0.075],[0.26,0.05],[0.27,0.025],[-0.014,0.1],[0.02,0.11],[0.058,0.115],[0.098,0.11],[0.136,0.11],[0.175,0.105],[0.22,0.1],[0.26,0.095]]
const more2015 = [[0.003,0.045],[0.012,0.01],[0.025,0.065],[0.034,0.025],[0.043,0.055],[0.052,0.005],[0.061,0.04],[0.07,0.07],[0.079,0.02],[0.088,0.05],[0.097,0.025],[0.106,0.07],[0.115,0.015],[0.125,0.05],[0.134,0.035],[0.144,0.065],[0.153,0.01],[0.163,0.045],[0.174,0.025],[0.184,0.06],[0.196,0.035],[0.209,0.065],[0.223,0.015],[0.238,0.05],[0.254,0.035],[0.271,0.05],[0.291,0.01],[-0.014,0.06],[0.02,0.075],[0.05,0.08],[0.1,0.085],[0.15,0.09],[0.2,0.09],[0.25,0.085],[0.298,0.06]]
const more2017 = [[0.002,0.05],[0.01,0.02],[0.023,0.055],[0.031,0.03],[0.04,0.075],[0.048,0.045],[0.057,0.025],[0.066,0.05],[0.074,0.02],[0.083,0.07],[0.091,0.04],[0.1,0.06],[0.109,0.025],[0.118,0.045],[0.128,0.065],[0.137,0.02],[0.146,0.055],[0.155,0.035],[0.166,0.07],[0.176,0.04],[0.187,0.02],[0.198,0.06],[0.21,0.035],[0.222,0.055],[0.236,0.025],[0.25,0.05],[0.258,0.02],[-0.014,0.085],[0.02,0.085],[0.05,0.08],[0.09,0.08],[0.14,0.085],[0.19,0.09],[0.23,0.075],[-0.006,0.055]]

// loess confidence band where the fitted points are dense: [x, lower, upper]
const band1983 = [[-0.022,0.099,0.143],[0.05,0.097,0.14],[0.1,0.094,0.136],[0.15,0.089,0.13],[0.2,0.085,0.125],[0.25,0.082,0.121],[0.271,0.082,0.121]]
const band1985 = [[-0.022,0.094,0.131],[0.06,0.092,0.128],[0.12,0.088,0.122],[0.18,0.084,0.117],[0.246,0.081,0.114],[0.308,0.08,0.116]]
const band1988 = [[-0.022,0.083,0.12],[0.03,0.087,0.126],[0.09,0.09,0.132],[0.14,0.085,0.122],[0.204,0.076,0.11]]
const band1990 = [[-0.022,0.087,0.126],[0.05,0.083,0.12],[0.1,0.079,0.113],[0.15,0.076,0.108],[0.2,0.074,0.106],[0.234,0.078,0.11]]
const band1993 = [[-0.022,0.087,0.12],[0.04,0.081,0.113],[0.09,0.076,0.107],[0.133,0.074,0.104],[0.19,0.078,0.108],[0.238,0.082,0.113]]
const band1995 = [[-0.022,0.073,0.108],[0.04,0.079,0.112],[0.1,0.084,0.115],[0.15,0.078,0.108],[0.2,0.071,0.1],[0.226,0.068,0.097]]
const band1998 = [[-0.022,0.069,0.101],[0.02,0.082,0.11],[0.046,0.087,0.113],[0.08,0.083,0.11],[0.12,0.074,0.102],[0.154,0.071,0.1],[0.2,0.074,0.103],[0.234,0.077,0.106],[0.279,0.082,0.116]]
const band2000 = [[-0.022,0.068,0.1],[0.05,0.073,0.105],[0.1,0.078,0.11],[0.15,0.083,0.115],[0.2,0.088,0.12],[0.236,0.09,0.122]]
const band2003 = [[-0.022,0.066,0.096],[0.04,0.062,0.091],[0.1,0.058,0.086],[0.16,0.063,0.091],[0.214,0.067,0.097],[0.226,0.068,0.099]]
const band2005 = [[-0.022,0.051,0.085],[0.05,0.052,0.086],[0.12,0.054,0.087],[0.17,0.061,0.093],[0.211,0.069,0.1],[0.234,0.074,0.104]]
const band2008 = [[-0.022,0.062,0.09],[0.05,0.062,0.09],[0.12,0.061,0.089],[0.18,0.06,0.088],[0.208,0.059,0.087]]
const band2010 = [[-0.022,0.054,0.084],[0.06,0.051,0.08],[0.123,0.05,0.078],[0.17,0.054,0.083],[0.214,0.06,0.09],[0.249,0.064,0.097]]
const band2013 = [[-0.022,0.102,0.153],[0.05,0.106,0.157],[0.115,0.11,0.16],[0.17,0.115,0.164],[0.227,0.122,0.167],[0.257,0.124,0.172]]
const band2015 = [[-0.022,0.035,0.069],[0.04,0.04,0.075],[0.1,0.046,0.08],[0.15,0.051,0.084],[0.2,0.056,0.088],[0.229,0.06,0.09]]
const band2017 = [[-0.022,0.048,0.075],[0.03,0.045,0.072],[0.07,0.043,0.069],[0.11,0.046,0.072],[0.154,0.051,0.077],[0.204,0.057,0.082]]

// error bars on the sparse right side: [x, fit, lower, upper]
const bars1983 = [[0.271,0.105,0.082,0.122],[0.282,0.104,0.081,0.121],[0.294,0.103,0.081,0.121],[0.305,0.103,0.081,0.12],[0.316,0.104,0.082,0.122],[0.327,0.105,0.084,0.124],[0.338,0.106,0.085,0.126],[0.35,0.107,0.086,0.128],[0.36,0.108,0.087,0.13],[0.372,0.11,0.088,0.132],[0.38,0.111,0.089,0.134],[0.389,0.112,0.09,0.136],[0.397,0.113,0.09,0.138],[0.45,0.127,0.095,0.164],[0.467,0.132,0.095,0.176],[0.473,0.134,0.095,0.18],[0.477,0.135,0.096,0.182],[0.499,0.147,0.099,0.198]]
const bars1985 = [[0.308,0.1,0.079,0.117],[0.326,0.106,0.082,0.124],[0.336,0.107,0.084,0.128],[0.346,0.114,0.085,0.133],[0.351,0.114,0.085,0.136],[0.364,0.114,0.086,0.144],[0.383,0.114,0.087,0.147],[0.4,0.12,0.088,0.158],[0.407,0.12,0.088,0.161],[0.414,0.123,0.089,0.164],[0.43,0.128,0.09,0.174],[0.438,0.131,0.09,0.178],[0.473,0.141,0.093,0.202],[0.5,0.155,0.093,0.228]]
const bars1988 = [[0.204,0.096,0.076,0.11],[0.221,0.096,0.077,0.111],[0.235,0.097,0.077,0.112],[0.254,0.097,0.078,0.113],[0.266,0.098,0.078,0.114],[0.277,0.098,0.078,0.115],[0.288,0.099,0.079,0.116],[0.294,0.099,0.079,0.116],[0.302,0.1,0.079,0.117],[0.308,0.1,0.079,0.118],[0.316,0.101,0.079,0.119],[0.338,0.105,0.079,0.124],[0.344,0.105,0.079,0.125],[0.35,0.106,0.079,0.126],[0.358,0.107,0.079,0.127],[0.372,0.109,0.079,0.129],[0.375,0.109,0.079,0.13],[0.4,0.109,0.079,0.136],[0.417,0.111,0.079,0.144],[0.427,0.112,0.079,0.148],[0.436,0.113,0.079,0.152],[0.501,0.123,0.072,0.183]]
const bars1990 = [[0.234,0.094,0.078,0.11],[0.251,0.097,0.081,0.113],[0.268,0.1,0.085,0.116],[0.285,0.103,0.088,0.119],[0.296,0.105,0.09,0.121],[0.314,0.108,0.092,0.126],[0.325,0.11,0.093,0.13],[0.336,0.112,0.093,0.134],[0.348,0.115,0.094,0.138],[0.359,0.117,0.094,0.142],[0.371,0.119,0.095,0.146],[0.388,0.122,0.095,0.151],[0.401,0.124,0.096,0.155],[0.41,0.126,0.096,0.158],[0.442,0.126,0.094,0.16],[0.499,0.125,0.081,0.181]]
const bars1993 = [[0.238,0.097,0.082,0.113],[0.253,0.099,0.084,0.115],[0.27,0.102,0.087,0.118],[0.282,0.104,0.089,0.12],[0.295,0.106,0.09,0.124],[0.31,0.109,0.09,0.128],[0.325,0.112,0.09,0.133],[0.333,0.113,0.09,0.135],[0.344,0.115,0.09,0.138],[0.356,0.118,0.089,0.141],[0.367,0.12,0.089,0.144],[0.456,0.135,0.095,0.18],[0.502,0.146,0.091,0.209]]
const bars1995 = [[0.226,0.081,0.068,0.097],[0.243,0.081,0.068,0.097],[0.26,0.081,0.068,0.097],[0.271,0.081,0.068,0.097],[0.283,0.081,0.068,0.097],[0.306,0.081,0.068,0.097],[0.323,0.081,0.068,0.098],[0.34,0.082,0.068,0.1],[0.345,0.083,0.068,0.102],[0.357,0.085,0.068,0.105],[0.38,0.09,0.068,0.113],[0.397,0.095,0.068,0.121],[0.431,0.099,0.068,0.134],[0.442,0.101,0.068,0.14],[0.454,0.102,0.068,0.142],[0.499,0.12,0.068,0.18]]
const bars1998 = [[0.279,0.1,0.082,0.116],[0.291,0.1,0.081,0.119],[0.296,0.1,0.081,0.12],[0.308,0.101,0.08,0.122],[0.319,0.101,0.079,0.125],[0.331,0.102,0.077,0.128],[0.348,0.103,0.075,0.132],[0.371,0.104,0.073,0.138],[0.382,0.105,0.072,0.142],[0.41,0.109,0.069,0.157],[0.437,0.11,0.059,0.167],[0.473,0.113,0.05,0.191],[0.502,0.113,0.038,0.205]]
const bars2000 = [[0.236,0.106,0.09,0.122],[0.25,0.106,0.089,0.123],[0.265,0.105,0.088,0.124],[0.276,0.104,0.087,0.125],[0.287,0.104,0.086,0.125],[0.295,0.104,0.085,0.126],[0.307,0.103,0.084,0.127],[0.316,0.103,0.083,0.128],[0.327,0.102,0.082,0.129],[0.339,0.1,0.08,0.13],[0.364,0.097,0.073,0.132],[0.421,0.094,0.051,0.145],[0.436,0.091,0.048,0.14],[0.464,0.083,0.026,0.158],[0.502,0.078,0,0.171]]
const bars2003 = [[0.226,0.083,0.068,0.099],[0.243,0.084,0.07,0.101],[0.266,0.086,0.072,0.104],[0.277,0.089,0.073,0.108],[0.292,0.093,0.075,0.113],[0.303,0.095,0.076,0.116],[0.315,0.099,0.078,0.122],[0.32,0.1,0.078,0.124],[0.351,0.106,0.078,0.135],[0.36,0.108,0.078,0.138],[0.374,0.11,0.078,0.143],[0.385,0.112,0.078,0.148],[0.403,0.118,0.078,0.158],[0.442,0.127,0.076,0.187],[0.471,0.134,0.07,0.206],[0.499,0.142,0.064,0.227]]
const bars2005 = [[0.234,0.089,0.074,0.104],[0.245,0.091,0.076,0.106],[0.262,0.094,0.078,0.109],[0.274,0.097,0.08,0.112],[0.285,0.099,0.082,0.114],[0.296,0.1,0.082,0.117],[0.314,0.102,0.082,0.121],[0.323,0.103,0.081,0.124],[0.342,0.105,0.08,0.13],[0.365,0.108,0.078,0.14],[0.385,0.11,0.076,0.152],[0.42,0.116,0.07,0.171],[0.428,0.117,0.07,0.172],[0.502,0.127,0.044,0.218]]
const bars2008 = [[0.208,0.073,0.059,0.087],[0.219,0.073,0.058,0.087],[0.234,0.073,0.058,0.087],[0.248,0.072,0.057,0.088],[0.265,0.072,0.056,0.088],[0.279,0.072,0.055,0.088],[0.295,0.071,0.054,0.089],[0.31,0.07,0.051,0.09],[0.322,0.07,0.05,0.091],[0.327,0.07,0.049,0.092],[0.339,0.069,0.047,0.093],[0.356,0.068,0.043,0.096],[0.371,0.066,0.038,0.099],[0.405,0.062,0.029,0.105],[0.458,0.058,0,0.119],[0.502,0.043,-0.017,0.13]]
const bars2010 = [[0.249,0.08,0.064,0.097],[0.26,0.082,0.065,0.099],[0.277,0.084,0.066,0.103],[0.288,0.085,0.067,0.106],[0.303,0.087,0.068,0.11],[0.317,0.089,0.068,0.112],[0.328,0.09,0.069,0.114],[0.34,0.092,0.069,0.116],[0.349,0.094,0.07,0.118],[0.363,0.096,0.07,0.12],[0.38,0.097,0.069,0.124],[0.397,0.098,0.068,0.128],[0.431,0.098,0.06,0.14],[0.454,0.098,0.054,0.152],[0.499,0.092,0.032,0.17]]
const bars2013 = [[0.257,0.147,0.124,0.172],[0.266,0.148,0.124,0.174],[0.271,0.148,0.123,0.175],[0.277,0.149,0.123,0.176],[0.282,0.149,0.122,0.177],[0.289,0.15,0.12,0.182],[0.308,0.155,0.114,0.195],[0.312,0.156,0.113,0.198],[0.317,0.158,0.112,0.202],[0.322,0.159,0.11,0.205],[0.326,0.16,0.109,0.208],[0.33,0.161,0.108,0.212],[0.336,0.162,0.107,0.216],[0.341,0.163,0.106,0.22],[0.344,0.163,0.106,0.223],[0.5,0.173,-0.01,0.39]]
const bars2015 = [[0.229,0.075,0.06,0.09],[0.238,0.075,0.06,0.09],[0.246,0.076,0.061,0.09],[0.254,0.076,0.061,0.091],[0.263,0.077,0.062,0.091],[0.271,0.077,0.062,0.091],[0.28,0.078,0.063,0.092],[0.285,0.078,0.063,0.092],[0.291,0.078,0.063,0.093],[0.312,0.08,0.063,0.097],[0.319,0.08,0.063,0.099],[0.322,0.08,0.063,0.099],[0.38,0.08,0.06,0.105],[0.397,0.08,0.058,0.107],[0.403,0.08,0.058,0.108],[0.431,0.08,0.05,0.116],[0.464,0.08,0.043,0.128],[0.5,0.08,0.032,0.139]]
const bars2017 = [[0.204,0.069,0.057,0.082],[0.221,0.071,0.059,0.083],[0.238,0.073,0.061,0.085],[0.249,0.075,0.062,0.088],[0.257,0.076,0.063,0.089],[0.263,0.077,0.064,0.09],[0.277,0.079,0.065,0.095],[0.294,0.082,0.066,0.101],[0.306,0.084,0.068,0.104],[0.324,0.09,0.072,0.11],[0.332,0.092,0.073,0.113],[0.354,0.099,0.077,0.125],[0.36,0.1,0.078,0.127],[0.369,0.102,0.079,0.131],[0.375,0.104,0.079,0.133],[0.38,0.105,0.08,0.135],[0.384,0.106,0.08,0.137],[0.403,0.115,0.083,0.153],[0.412,0.117,0.084,0.155],[0.433,0.125,0.087,0.171],[0.5,0.15,0.087,0.225]]

const allPts = [pts1983, pts1985, pts1988, pts1990, pts1993, pts1995, pts1998, pts2000, pts2003, pts2005, pts2008, pts2010, pts2013, pts2015, pts2017]
const allMore = [more1983, more1985, more1988, more1990, more1993, more1995, more1998, more2000, more2003, more2005, more2008, more2010, more2013, more2015, more2017]
const allBands = [band1983, band1985, band1988, band1990, band1993, band1995, band1998, band2000, band2003, band2005, band2008, band2010, band2013, band2015, band2017]
const allBars = [bars1983, bars1985, bars1988, bars1990, bars1993, bars1995, bars1998, bars2000, bars2003, bars2005, bars2008, bars2010, bars2013, bars2015, bars2017]

const BLUE = 'rgb(32,78,255)'
const colLeft = [52, 397, 743]
const rowTop = [24, 169, 315, 460, 605]
const BOX_W = 326, BOX_H = 124, TICK = 10

function errorBarPlugin(bars) {
    return {
        id: 'errorBars',
        afterDatasetsDraw(chart) {
            const { ctx, chartArea, scales: { x, y } } = chart
            ctx.save()
            ctx.beginPath()
            ctx.rect(chartArea.left, chartArea.top, chartArea.width, chartArea.height)
            ctx.clip()
            ctx.strokeStyle = BLUE
            ctx.lineWidth = 1.4
            bars.forEach(b => {
                const px = x.getPixelForValue(b[0])
                const lo = y.getPixelForValue(b[2])
                const hi = y.getPixelForValue(b[3])
                ctx.beginPath()
                ctx.moveTo(px, lo); ctx.lineTo(px, hi)
                ctx.moveTo(px - 6, lo); ctx.lineTo(px + 6, lo)
                ctx.moveTo(px - 6, hi); ctx.lineTo(px + 6, hi)
                ctx.stroke()
            })
            ctx.restore()
        }
    }
}

const frame = {
    id: 'frame',
    afterDraw(chart) {
        const { ctx, chartArea: a } = chart
        ctx.save()
        ctx.strokeStyle = '#333'
        ctx.lineWidth = 1.5
        ctx.strokeRect(a.left, a.top, a.width, a.height)
        ctx.restore()
    }
}

function panel(i) {
    const left = colLeft[i % 3], top = rowTop[Math.floor(i / 3)]
    const cv = document.createElement('canvas')
    cv.width = BOX_W + TICK + 2
    cv.height = BOX_H + TICK + 2
    cv.style.left = (left - TICK) + 'px'
    cv.style.top = (top - 2) + 'px'
    document.body.appendChild(cv)

    const title = document.createElement('div')
    title.className = 'ttl'
    title.textContent = years[i]
    title.style.left = left + 'px'
    title.style.top = (top - 16) + 'px'
    document.body.appendChild(title)

    const yMax = yTop[i]
    const yMin = -yMax * 1.5 / 122.5
    const band = allBands[i], bars = allBars[i]
    const pts = allPts[i].concat(allMore[i])

    const data = {
        datasets: [
            {
                type: 'line',
                data: band.map(b => ({ x: b[0], y: b[2] })),
                borderColor: BLUE, borderWidth: 1, pointRadius: 0,
                cubicInterpolationMode: 'monotone', fill: false
            },
            {
                type: 'line',
                data: band.map(b => ({ x: b[0], y: b[1] })),
                borderColor: BLUE, borderWidth: 1, pointRadius: 0,
                cubicInterpolationMode: 'monotone', fill: '-1', backgroundColor: BLUE
            },
            {
                data: bars.map(b => ({ x: b[0], y: b[1] })),
                pointRadius: 2.7, backgroundColor: BLUE, borderWidth: 0
            },
            {
                data: pts.map(p => ({ x: p[0], y: p[1] })),
                pointRadius: 2.9, backgroundColor: '#000', borderWidth: 0
            }
        ]
    }

    const axis = (min, max, ticks) => ({
        type: 'linear', min, max,
        afterBuildTicks: ax => { ax.ticks = ticks.map(v => ({ value: v })) },
        ticks: { display: false },
        grid: { drawOnChartArea: false, tickLength: TICK, color: '#000', lineWidth: 1 },
        border: { display: false }
    })

    const options = {
        responsive: false,
        animation: false,
        events: [],
        layout: { padding: { left: 0, top: 2, right: 2, bottom: 0 } },
        plugins: { legend: { display: false }, tooltip: { enabled: false } },
        scales: {
            x: axis(-0.0218, 0.5235, xTicks),
            y: axis(yMin, yMax, yTicks.filter(v => v <= yMax))
        }
    }

    new Chart(cv, { type: 'scatter', data, options, plugins: [errorBarPlugin(bars), frame] })
}

years.forEach((y, i) => panel(i))

function label(text, cx, cy, size, rotate) {
    const d = document.createElement('div')
    d.className = 'lbl'
    d.textContent = text
    d.style.fontSize = size + 'px'
    d.style.width = '700px'
    d.style.lineHeight = (size + 6) + 'px'
    d.style.left = (cx - 350) + 'px'
    d.style.top = (cy - (size + 6) / 2) + 'px'
    if (rotate) d.style.transform = 'rotate(-90deg)'
    document.body.appendChild(d)
}

label('Unionization Rate', 22, 372, 28, true)
label('Race Theil Segregation Index', 569, 751, 28, false)
label('in each Occupation from 1983 to 2017', 570, 799, 21, false)
label('Loess curve fitting in blue with 95% interval error bars', 570, 823, 21, false)
</script>
</body>
</html>
